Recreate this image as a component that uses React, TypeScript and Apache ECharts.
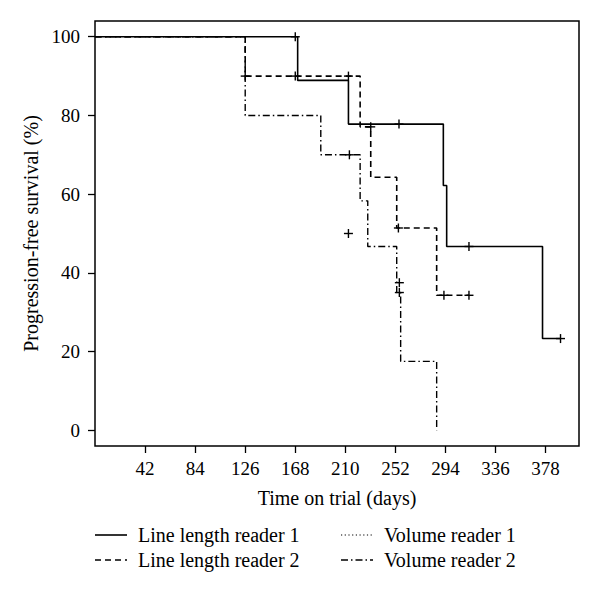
import React, { useEffect, useRef } from "react";
import * as echarts from "echarts";

// Tick labels
const timeTicks = [42, 84, 126, 168, 210, 252, 294, 336, 378];
const survivalTicks = [0, 20, 40, 60, 80, 100];

// Series names
const seriesNames = [
  "Line length reader 1",
  "Line length reader 2",
  "Volume reader 1",
  "Volume reader 2",
];

// Kaplan-Meier steps: [time (days), survival after that time (%)]
const lineLength1Steps = [
  [0, 100], [170, 88.9], [212.6, 77.8], [292.2, 62.2], [295, 46.7], [375.4, 23.3], [390.5, 23.3],
];
const lineLength2Steps = [
  [0, 100], [126, 90], [222.4, 77.1], [231.3, 64.3], [253.1, 51.4], [286.6, 34.3], [313.7, 34.3],
];
const volume2Steps = [
  [0, 100], [126, 80], [189.4, 70], [222.4, 58.3], [228.8, 46.7], [253.1, 35], [256.4, 17.5], [286.6, 0],
];

// Censored observations
const lineLength1Censor = [[168, 100], [255, 77.8], [313.7, 46.7], [390.5, 23.3]];
const lineLength2Censor = [[126, 90], [168, 90], [212.6, 90], [231.3, 77.1], [254.5, 51.4], [292.7, 34.3], [313.7, 34.3]];
const volume1Censor = [[212.6, 50], [255.3, 37.5]];
const volume2Censor = [[213.4, 70], [255.3, 35]];

const FONT = "'Liberation Serif', 'DejaVu Serif', serif";

const dashStyles: any[] = ["solid", [6, 4], [1.2, 2.5], [7, 3, 1.5, 3]];

function censorSeries(data: number[][], name: string) {
  return {
    type: "custom",
    name,
    coordinateSystem: "cartesian2d",
    encode: { x: 0, y: 1 },
    clip: false,
    silent: true,
    data,
    renderItem: (_p: any, api: any) => {
      const c = api.coord([api.value(0), api.value(1)]);
      const st = { stroke: "#000", lineWidth: 1.4 };
      return {
        type: "group",
        children: [
          { type: "line", shape: { x1: c[0] - 4.5, y1: c[1], x2: c[0] + 4.5, y2: c[1] }, style: st },
          { type: "line", shape: { x1: c[0], y1: c[1] - 4.5, x2: c[0], y2: c[1] + 4.5 }, style: st },
        ],
      };
    },
  };
}

function stepSeries(data: number[][], name: string, dash: any, width: number) {
  return {
    type: "line",
    name,
    step: "end",
    symbol: "none",
    data,
    lineStyle: { color: "#000", width, type: dash },
    silent: true,
  };
}

export default function App() {
  const ref = useRef<HTMLDivElement>(null);
  useEffect(() => {
    if (!ref.current) return;
    const chart = echarts.init(ref.current, null, { renderer: "svg" });

    const legendRows = [535, 560];
    const legendCols = [95, 341];
    const legendItems = [
      { name: seriesNames[0], col: 0, row: 0, dash: dashStyles[0], w: 1.6 },
      { name: seriesNames[2], col: 1, row: 0, dash: dashStyles[2], w: 1.2 },
      { name: seriesNames[1], col: 0, row: 1, dash: dashStyles[1], w: 1.6 },
      { name: seriesNames[3], col: 1, row: 1, dash: dashStyles[3], w: 1.4 },
    ];
    const graphic: any[] = [];
    legendItems.forEach((it) => {
      const x = legendCols[it.col];
      const y = legendRows[it.row];
      graphic.push({
        type: "line",
        shape: { x1: x, y1: y, x2: x + 32, y2: y },
        style: { stroke: "#000", lineWidth: it.w, lineDash: it.dash === "solid" ? null : it.dash },
      });
      graphic.push({
        type: "text",
        x: x + 43,
        y,
        style: { text: it.name, font: `20px ${FONT}`, fill: "#000", textVerticalAlign: "middle", verticalAlign: "middle" },
      });
    });

    chart.setOption({
      animation: false,
      backgroundColor: "#fff",
      textStyle: { fontFamily: FONT },
      grid: {
        left: 95,
        right: 21,
        top: 21,
        bottom: 146,
        show: true,
        borderColor: "#000",
        borderWidth: 1.5,
        containLabel: false,
      },
      xAxis: {
        type: "value",
        min: 0,
        max: 406,
        axisLine: { show: false, onZero: false },
        splitLine: { show: false },
        axisTick: { show: true, length: 7, lineStyle: { color: "#000", width: 1.3 }, customValues: timeTicks },
        axisLabel: { color: "#000", fontSize: 19, fontFamily: FONT, margin: 13, customValues: timeTicks },
        name: "Time on trial (days)",
        nameLocation: "middle",
        nameGap: 42,
        nameTextStyle: { color: "#000", fontSize: 20, fontFamily: FONT },
      },
      yAxis: {
        type: "value",
        min: -4,
        max: 104,
        axisLine: { show: false, onZero: false },
        splitLine: { show: false },
        axisTick: { show: true, length: 7, lineStyle: { color: "#000", width: 1.3 }, customValues: survivalTicks },
        axisLabel: { color: "#000", fontSize: 19, fontFamily: FONT, margin: 15, customValues: survivalTicks },
        name: "Progression-free survival (%)",
        nameLocation: "middle",
        nameGap: 52,
        nameTextStyle: { color: "#000", fontSize: 20, fontFamily: FONT },
      },
      series: [
        stepSeries(lineLength1Steps, seriesNames[0], dashStyles[0], 1.6),
        stepSeries(lineLength2Steps, seriesNames[1], dashStyles[1], 1.6),
        stepSeries(volume2Steps, seriesNames[3], dashStyles[3], 1.4),
        censorSeries(lineLength1Censor, seriesNames[0] + " censored"),
        censorSeries(lineLength2Censor, seriesNames[1] + " censored"),
        censorSeries(volume1Censor, seriesNames[2] + " censored"),
        censorSeries(volume2Censor, seriesNames[3] + " censored"),
      ],
      graphic,
    });
    return () => chart.dispose();
  }, []);
  return <div ref={ref} style={{ width: 600, height: 592, position: "absolute", left: 0, top: 0 }} />;
}
